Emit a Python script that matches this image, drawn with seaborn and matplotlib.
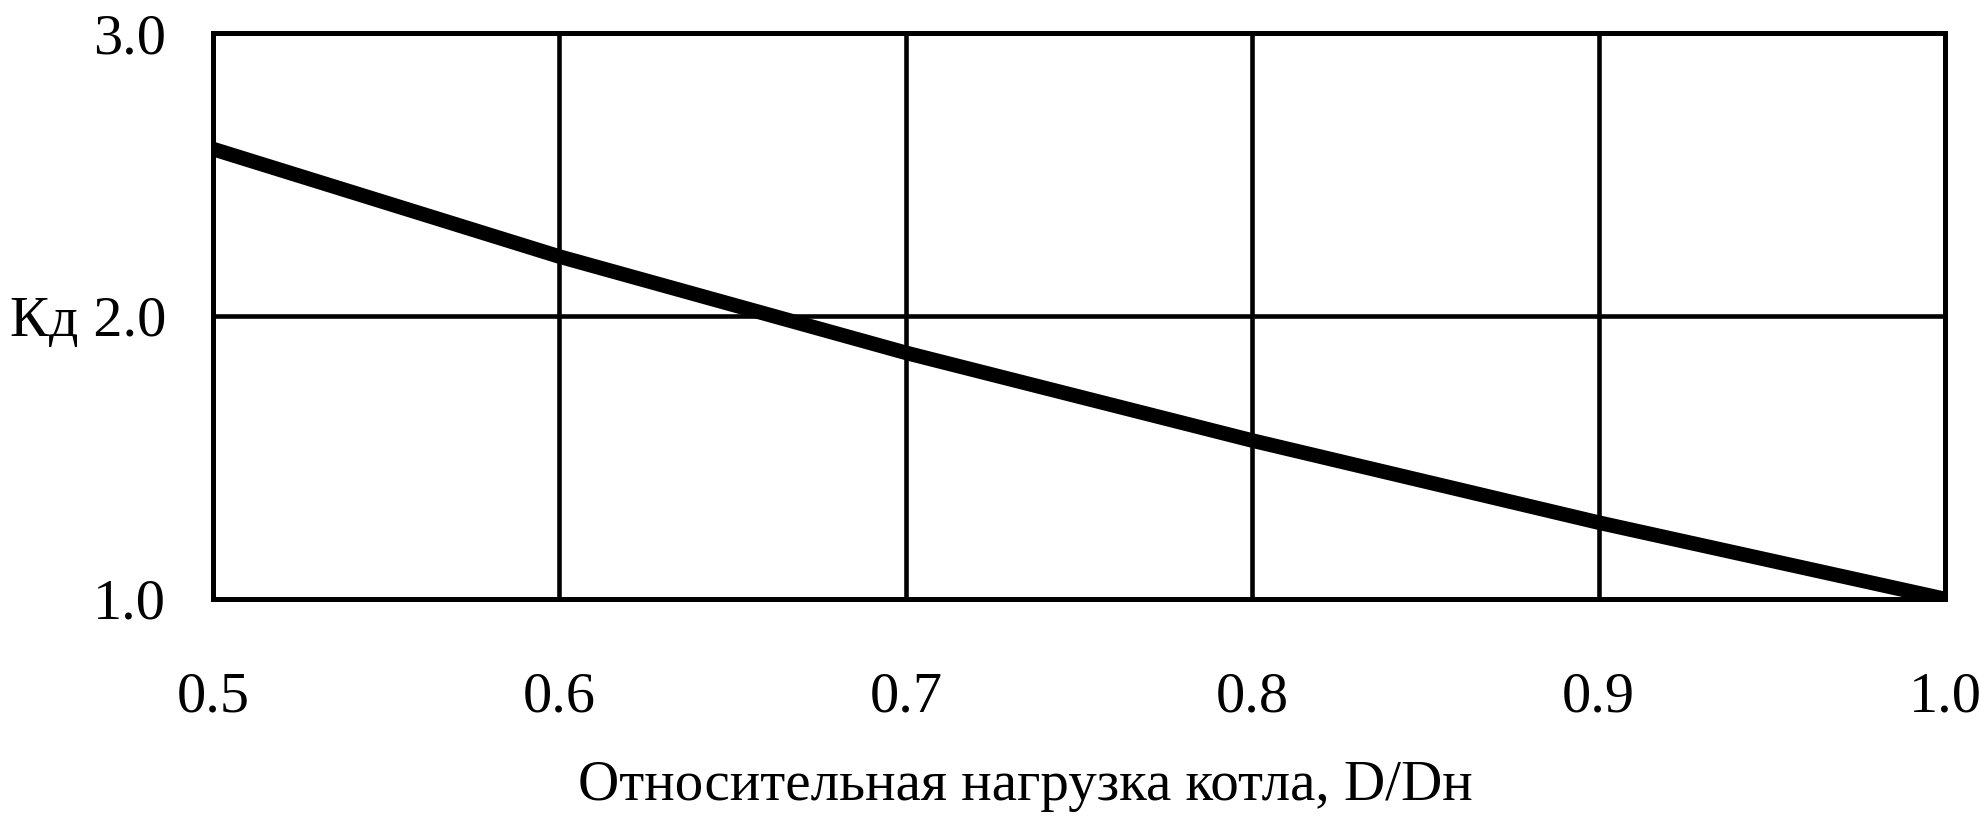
import pandas as pd
import seaborn as sns
import matplotlib.pyplot as plt

# values
load = [0.5, 0.6, 0.7, 0.8, 0.9, 1.0]
kd = [2.59, 2.21, 1.87, 1.56, 1.27, 1.0]
x_ticks = [0.5, 0.6, 0.7, 0.8, 0.9, 1.0]
x_labels = ["0.5", "0.6", "0.7", "0.8", "0.9", "1.0"]
y_ticks = [1.0, 2.0, 3.0]
y_labels = ["1.0", "Кд 2.0", "3.0"]
x_title = "Относительная нагрузка котла, D/Dн"

df = pd.DataFrame({"load": load, "kd": kd})

sns.set_style("white")
plt.rcParams['font.family'] = ['Liberation Serif', 'DejaVu Serif']
plt.rcParams['text.color'] = 'black'
plt.rcParams['xtick.color'] = 'black'
plt.rcParams['ytick.color'] = 'black'
plt.rcParams['axes.labelcolor'] = 'black'

fig = plt.figure(figsize=(19.86, 8.36), dpi=100)
ax = fig.add_axes([0.1073, 0.2835, 0.8721, 0.677])

sns.lineplot(x="load", y="kd", data=df, ax=ax, color="black", linewidth=10.5,
             solid_capstyle="butt", zorder=3)

ax.set_xlim(0.5, 1.0)
ax.set_ylim(1.0, 3.0)
ax.set_xticks(x_ticks)
ax.set_xticklabels(x_labels)
ax.set_yticks(y_ticks)
ax.set_yticklabels(y_labels)
ax.tick_params(axis="x", length=0, pad=52, labelsize=42)
ax.tick_params(axis="y", length=0, pad=34, labelsize=42)

ax.grid(True, color="black", linewidth=3.3)
for s in ax.spines.values():
    s.set_color("black")
    s.set_linewidth(3.6)

ax.set_xlabel(x_title, fontsize=41, va="center")
ax.xaxis.set_label_coords(0.469, -0.33)
ax.set_ylabel("")

fig.savefig("out.png", dpi=100, facecolor="white")
